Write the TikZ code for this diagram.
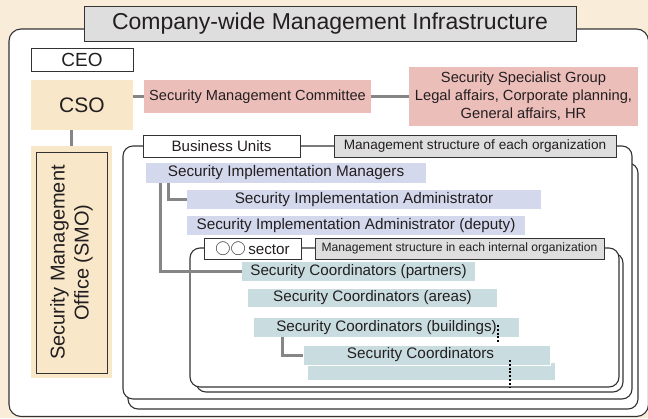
\documentclass[tikz,border=0pt]{standalone}
\usepackage{fontspec}
\setmainfont{Liberation Sans}
\newfontfamily\cjkfont{Noto Sans CJK JP}
\definecolor{bgbeige}{HTML}{F9ECD8}
\definecolor{csobeige}{HTML}{F9E7CA}
\definecolor{pinkb}{HTML}{ECBEBA}
\definecolor{blueb}{HTML}{D3D8EC}
\definecolor{tealb}{HTML}{C9DDE0}
\definecolor{greyb}{HTML}{DEDEDE}
\definecolor{connc}{HTML}{868686}
\definecolor{linec}{HTML}{333333}
\definecolor{txt}{HTML}{231F20}
\tikzset{
  bx/.style={anchor=north west, inner sep=0pt, outer sep=0pt, text=txt, align=center},
  framedbox/.style={bx, draw=linec, line width=0.9pt},
  conn/.style={draw=connc, line width=3pt},
  orgframe/.style={draw=linec, line width=1.1pt, rounded corners=10pt, fill=white},
  dotline/.style={draw=black, line width=2.2pt, dash pattern=on 2pt off 1.8pt},
  fs/.style={font=\fontsize{#1}{18}\selectfont}
}
\begin{document}
\begin{tikzpicture}[x=1pt,y=-1pt]
\useasboundingbox (0,0) rectangle (648,418);
\fill[bgbeige] (0,0) rectangle (648,418);
% main frame
\draw[orgframe, rounded corners=12pt] (9,29) rectangle (648.5,416.5);
\node[framedbox, fill=greyb, minimum width=492pt, minimum height=35pt, fs=23] (title) at (84,6) {Company-wide Management Infrastructure};
% top level
\node[framedbox, fill=white, minimum width=102pt, minimum height=23pt, fs=19] (ceo) at (31,48) {CEO};
\node[bx, fill=csobeige, minimum width=102pt, minimum height=50pt, fs=21] (cso) at (31,80) {CSO};
\node[bx, fill=pinkb, minimum width=227pt, minimum height=33pt, fs=14.6] (smc) at (144,80) {Security Management Committee};
\node[bx, fill=pinkb, minimum width=229pt, minimum height=59pt, fs=14.7] (ssg) at (409,67) {Security Specialist Group\\Legal affairs, Corporate planning,\\General affairs, HR};
\draw[conn] (smc.west -| cso.east) -- (smc.west);
\draw[conn] (smc.east) -- (smc.east -| ssg.west);
% SMO
\node[bx, fill=csobeige, minimum width=81pt, minimum height=232pt] (smo) at (31,146) {};
\node[draw=linec, line width=0.9pt, fill=csobeige, inner sep=0pt, rotate=90, minimum width=221pt, minimum height=71pt, align=center, text=txt, font=\fontsize{20}{24}\selectfont] (smoin) at (71.5,262.5) {Security Management\\Office (SMO)};
\draw[conn] (smo.north |- cso.south) -- (smo.north);
% business unit frames
\draw[orgframe] (128,163) rectangle (638,409);
\draw[orgframe] (123,146) rectangle (632,399);
\node[framedbox, fill=white, minimum width=157pt, minimum height=22pt, fs=15.1] (bu) at (143,135) {Business Units};
\node[framedbox, fill=greyb, minimum width=282pt, minimum height=22pt, fs=13.6] (mseo) at (334,135) {Management structure of each organization};
% sector frames
\draw[orgframe] (196,253) rectangle (623,392);
\draw[orgframe] (190,248) rectangle (619,387);
\node[framedbox, fill=white, minimum width=97pt, minimum height=21pt, fs=15.2] (sector) at (204,238) {{\cjkfont ○○}\,sector};
\node[framedbox, fill=greyb, minimum width=289pt, minimum height=21pt, fs=12.1] (msio) at (315,238) {Management structure in each internal organization};
% implementation
\node[bx, fill=blueb, minimum width=280pt, minimum height=20pt, fs=15.3] (sim) at (146,163) {Security Implementation Managers};
\node[bx, fill=blueb, minimum width=354pt, minimum height=19pt, fs=15.3] (sia) at (187,190) {Security Implementation Administrator};
\node[bx, fill=blueb, minimum width=338pt, minimum height=19pt, fs=15.3] (siad) at (187,216) {Security Implementation Administrator (deputy)};
% coordinators
\node[bx, fill=tealb, minimum width=233pt, minimum height=19pt, fs=15.2] (scp) at (242,262) {Security Coordinators (partners)};
\node[bx, fill=tealb, minimum width=249pt, minimum height=18pt, fs=15.2] (sca) at (248,289) {Security Coordinators (areas)};
\node[bx, fill=tealb, minimum width=265pt, minimum height=19pt, fs=15.2] (scb) at (254,318) {Security Coordinators (buildings)};
\node[bx, fill=tealb, minimum width=247pt, minimum height=17pt] (scf2) at (308,363) {};
\node[bx, fill=tealb, draw=white, line width=0.8pt, minimum width=247pt, minimum height=20pt, fs=15.3] (scf) at (303,345) {Security Coordinators\hspace*{12pt}};
% connectors
\draw[conn] ([xshift=22pt]sim.south west) |- (sia.west);
\draw[conn] ([xshift=14pt]sim.south west) |- (scp.west);
\draw[conn] ([xshift=28pt]scb.south west) |- (scf.west);
% dotted continuation marks
\coordinate (d1a) at (498,325);
\coordinate (d1b) at (498,343);
\coordinate (d2a) at (510,360);
\coordinate (d2b) at (510,387);
\draw[dotline] (d1a) -- (d1b);
\draw[dotline] (d2a) -- (d2b);
\end{tikzpicture}
\end{document}
